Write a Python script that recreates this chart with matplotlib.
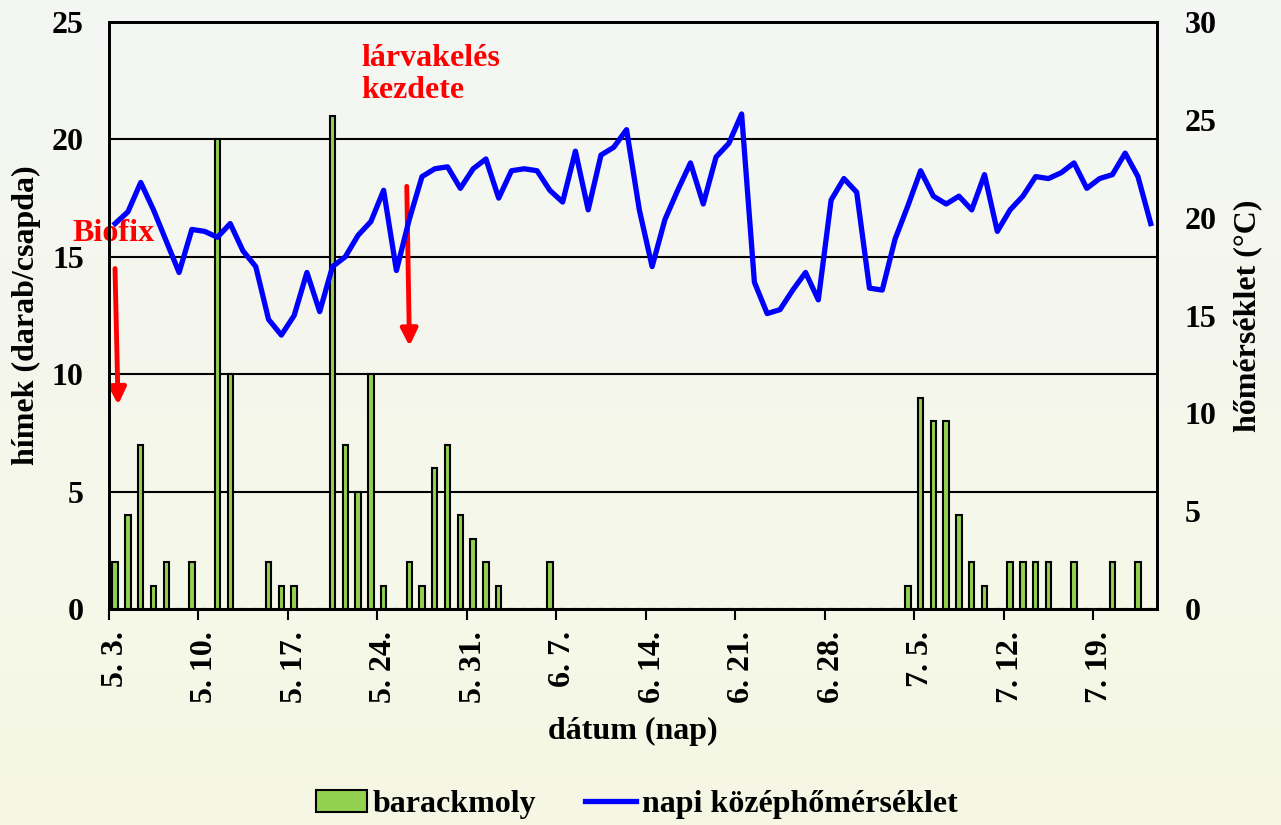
import numpy as np
import matplotlib
matplotlib.use("Agg")
import matplotlib.pyplot as plt
from matplotlib.patches import Patch
from matplotlib.lines import Line2D

# daily values, 5.3. -> 7.23. (82 days)
moth_counts = [2, 4, 7, 1, 2, 0, 2, 0, 20, 10,
               0, 0, 2, 1, 1, 0, 0, 21, 7, 5,
               10, 1, 0, 2, 1, 6, 7, 4, 3, 2,
               1, 0, 0, 0, 2, 0, 0, 0, 0, 0,
               0, 0, 0, 0, 0, 0, 0, 0, 0, 0,
               0, 0, 0, 0, 0, 0, 0, 0, 0, 0,
               0, 0, 1, 9, 8, 8, 4, 2, 1, 0,
               2, 2, 2, 2, 0, 2, 0, 0, 2, 0,
               2, 0]

mean_temp = [19.7, 20.3, 21.8, 20.4, 18.8, 17.2, 19.4, 19.3, 19.0, 19.7,
             18.3, 17.5, 14.8, 14.0, 15.0, 17.2, 15.2, 17.5, 18.0, 19.1,
             19.8, 21.4, 17.3, 19.9, 22.1, 22.5, 22.6, 21.5, 22.5, 23.0,
             21.0, 22.4, 22.5, 22.4, 21.4, 20.8, 23.4, 20.4, 23.2, 23.6,
             24.5, 20.4, 17.5, 19.9, 21.4, 22.8, 20.7, 23.1, 23.8, 25.3,
             16.7, 15.1, 15.3, 16.3, 17.2, 15.8, 20.9, 22.0, 21.3, 16.4,
             16.3, 18.9, 20.6, 22.4, 21.1, 20.7, 21.1, 20.4, 22.2, 19.3,
             20.4, 21.1, 22.1, 22.0, 22.3, 22.8, 21.5, 22.0, 22.2, 23.3,
             22.1, 19.7]

tick_days = [0, 7, 14, 21, 28, 35, 42, 49, 56, 63, 70, 77]
tick_labels = ["5. 3.", "5. 10.", "5. 17.", "5. 24.", "5. 31.", "6. 7.",
               "6. 14.", "6. 21.", "6. 28.", "7. 5.", "7. 12.", "7. 19."]

plt.rcParams['font.family'] = ['Liberation Serif', 'DejaVu Serif']
plt.rcParams['font.weight'] = 'bold'
plt.rcParams['axes.labelweight'] = 'bold'
plt.rcParams['font.size'] = 23

fig = plt.figure(figsize=(12.81, 8.25), dpi=100)

# background gradient
bg = fig.add_axes([0, 0, 1, 1], zorder=-10)
top = np.array([244, 246, 244]) / 255
bottom = np.array([246, 248, 228]) / 255
t = np.linspace(0, 1, 256)[:, None]
grad = top[None, :] * (1 - t) + bottom[None, :] * t
bg.imshow(grad[:, None, :], aspect='auto', extent=[0, 1, 0, 1])
bg.axis('off')

ax = fig.add_axes([0.0849, 0.2618, 0.8184, 0.7115])
ax.patch.set_alpha(0)
x = np.arange(len(moth_counts)) + 0.5
ax.bar(x, moth_counts, width=0.42, color='#92d050', edgecolor='black', linewidth=1.5, zorder=2)
ax.set_xlim(0, len(moth_counts))
ax.set_ylim(0, 25)
ax.set_yticks([0, 5, 10, 15, 20, 25])
ax.grid(axis='y', color='black', linewidth=1.5)
ax.set_axisbelow(True)
ax.tick_params(axis='y', length=0, pad=18)
ax.set_xticks(tick_days)
ax.set_xticklabels([])
ax.tick_params(axis='x', which='major', length=8, width=1.5, direction='out')
ax.set_xticks(np.array(tick_days) + 0.5, minor=True)
ax.set_xticklabels(tick_labels, minor=True, rotation=90)
ax.tick_params(axis='x', which='minor', length=0, pad=16)
for s in ax.spines.values():
    s.set_linewidth(2)
ax.set_ylabel('hímek (darab/csapda)', labelpad=8)
ax.set_xlabel('dátum (nap)', labelpad=10)

ax2 = ax.twinx()
ax2.plot(x, mean_temp, color='#0000ff', linewidth=3.8, zorder=3)
ax2.set_ylim(0, 30)
ax2.set_yticks([0, 5, 10, 15, 20, 25, 30])
ax2.tick_params(axis='y', length=0, pad=20)
ax2.set_ylabel('hőmérséklet (°C)', labelpad=12)
for s in ax2.spines.values():
    s.set_linewidth(2)

# annotations
arrow = dict(arrowstyle='-|>', color='red', lw=3.5, mutation_scale=25, shrinkA=0, shrinkB=0)
ax.annotate('', xy=(0.73, 8.7), xytext=(0.49, 14.5), arrowprops=arrow, zorder=5)
ax.annotate('', xy=(23.52, 11.2), xytext=(23.31, 18.0), arrowprops=arrow, zorder=5)
ax.text(0.34, 16.0, 'Biofix', color='red', ha='center', va='center', zorder=5, clip_on=False)
ax.text(19.78, 24.05, 'lárvakelés\nkezdete', color='red', ha='left', va='top', linespacing=1.1, zorder=5)

handles = [Patch(facecolor='#92d050', edgecolor='black', linewidth=1.5),
           Line2D([], [], color='#0000ff', linewidth=3.8)]
fig.legend(handles, ['barackmoly', 'napi középhőmérséklet'], loc='center',
           bbox_to_anchor=(0.497, 0.025), ncol=2, frameon=False,
           handlelength=1.6, handletextpad=0.2, columnspacing=1.5)

fig.savefig('out.png', dpi=100)
